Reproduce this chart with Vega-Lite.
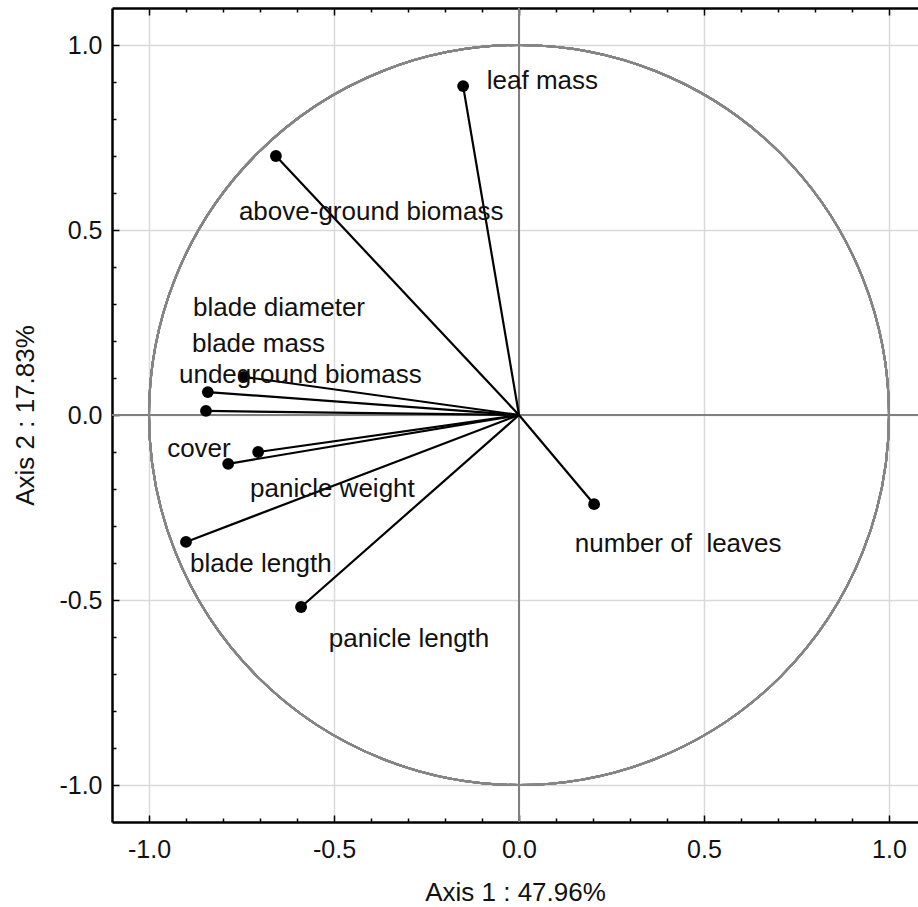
{
  "$schema": "https://vega.github.io/schema/vega-lite/v6.json",
  "autosize": "none",
  "padding": {"left": 112, "top": 8, "right": 0, "bottom": 85},
  "width": 806,
  "height": 814,
  "background": "white",
  "config": {"view": {"stroke": null}},
  "data": {"values": [
    {"name": "leaf mass", "x": -0.151, "y": 0.889, "lx": -0.087, "ly": 0.881},
    {"name": "above-ground biomass", "x": -0.657, "y": 0.700, "lx": -0.757, "ly": 0.527},
    {"name": "blade diameter", "x": -0.846, "y": 0.011, "lx": -0.881, "ly": 0.268},
    {"name": "blade mass", "x": -0.841, "y": 0.062, "lx": -0.884, "ly": 0.171},
    {"name": "undeground biomass", "x": -0.743, "y": 0.103, "lx": -0.919, "ly": 0.086},
    {"name": "cover", "x": -0.786, "y": -0.132, "lx": -0.951, "ly": -0.114},
    {"name": "panicle weight", "x": -0.705, "y": -0.100, "lx": -0.727, "ly": -0.222},
    {"name": "blade length", "x": -0.900, "y": -0.343, "lx": -0.889, "ly": -0.424},
    {"name": "panicle length", "x": -0.589, "y": -0.519, "lx": -0.514, "ly": -0.627},
    {"name": "number of\u00a0 leaves", "x": 0.203, "y": -0.241, "lx": 0.151, "ly": -0.370}
  ]},
  "resolve": {"axis": {"x": "independent", "y": "independent"}},
  "layer": [
    {
      "mark": {"type": "rule", "color": "#808080", "strokeWidth": 1.5},
      "encoding": {
        "x": {"datum": 0, "type": "quantitative", "scale": {"domain": [-1.1, 1.0784], "nice": false, "zero": false},
          "axis": {
            "orient": "bottom",
            "values": [-1.0, -0.9, -0.8, -0.7, -0.6, -0.5, -0.4, -0.3, -0.2, -0.1, 0, 0.1, 0.2, 0.3, 0.4, 0.5, 0.6, 0.7, 0.8, 0.9, 1.0],
            "labelExpr": "abs(datum.value*2 - round(datum.value*2)) < 0.001 ? (datum.value < -0.001 ? '-' : '') + format(abs(datum.value), '.1f') : ''",
            "labelOverlap": false,
            "labelFlush": false,
            "labelFont": "Liberation Sans",
            "labelFontSize": 25,
            "labelColor": "#111111",
            "labelPadding": 22,
            "tickSize": {"condition": {"test": "abs(datum.value*2 - round(datum.value*2)) < 0.001", "value": -7}, "value": -4},
            "tickColor": "black",
            "tickWidth": 1.5,
            "domain": true,
            "domainColor": "black",
            "domainWidth": 2.5,
            "grid": true,
            "gridColor": "#d9d9d9",
            "gridWidth": 1.5,
            "gridOpacity": {"condition": {"test": "abs(datum.value*2 - round(datum.value*2)) < 0.001", "value": 1}, "value": 0},
            "title": "Axis 1 : 47.96%",
            "titleFont": "Liberation Sans",
            "titleFontSize": 26,
            "titleFontWeight": "normal",
            "titleColor": "#111111",
            "titlePadding": 14
          }
        }
      }
    },
    {
      "mark": {"type": "rule", "color": "#808080", "strokeWidth": 1.5},
      "encoding": {
        "y": {"datum": 0, "type": "quantitative", "scale": {"domain": [-1.1, 1.1], "nice": false, "zero": false},
          "axis": {
            "orient": "left",
            "values": [-1.0, -0.9, -0.8, -0.7, -0.6, -0.5, -0.4, -0.3, -0.2, -0.1, 0, 0.1, 0.2, 0.3, 0.4, 0.5, 0.6, 0.7, 0.8, 0.9, 1.0],
            "labelExpr": "abs(datum.value*2 - round(datum.value*2)) < 0.001 ? (datum.value < -0.001 ? '-' : '') + format(abs(datum.value), '.1f') : ''",
            "labelOverlap": false,
            "labelFlush": false,
            "labelFont": "Liberation Sans",
            "labelFontSize": 25,
            "labelColor": "#111111",
            "labelPadding": 17,
            "tickSize": {"condition": {"test": "abs(datum.value*2 - round(datum.value*2)) < 0.001", "value": -7}, "value": -4},
            "tickColor": "black",
            "tickWidth": 1.5,
            "domain": true,
            "domainColor": "black",
            "domainWidth": 2.5,
            "grid": true,
            "gridColor": "#d9d9d9",
            "gridWidth": 1.5,
            "gridOpacity": {"condition": {"test": "abs(datum.value*2 - round(datum.value*2)) < 0.001", "value": 1}, "value": 0},
            "title": "Axis 2 : 17.83%",
            "titleFont": "Liberation Sans",
            "titleFontSize": 26,
            "titleFontWeight": "normal",
            "titleColor": "#111111",
            "titlePadding": 20
          }
        }
      }
    },
    {
      "mark": {"type": "arc", "radius": 370, "theta": 0, "theta2": 6.2832, "filled": false, "stroke": "#858585", "strokeWidth": 2},
      "encoding": {
        "x": {"datum": 0, "type": "quantitative", "axis": null},
        "y": {"datum": 0, "type": "quantitative", "axis": null}
      }
    },
    {
      "mark": {"type": "rule", "color": "black", "strokeWidth": 2.2},
      "encoding": {
        "x": {"field": "x", "type": "quantitative", "axis": null},
        "y": {"field": "y", "type": "quantitative", "axis": null},
        "x2": {"datum": 0},
        "y2": {"datum": 0}
      }
    },
    {
      "mark": {"type": "point", "filled": true, "color": "black", "size": 140, "opacity": 1},
      "encoding": {
        "x": {"field": "x", "type": "quantitative", "axis": null},
        "y": {"field": "y", "type": "quantitative", "axis": null}
      }
    },
    {
      "mark": {"type": "text", "align": "left", "baseline": "alphabetic", "font": "Liberation Sans", "fontSize": 26, "color": "#111111"},
      "encoding": {
        "x": {"field": "lx", "type": "quantitative",
          "axis": {
            "orient": "top",
            "values": [-1.0, -0.9, -0.8, -0.7, -0.6, -0.5, -0.4, -0.3, -0.2, -0.1, 0, 0.1, 0.2, 0.3, 0.4, 0.5, 0.6, 0.7, 0.8, 0.9, 1.0],
            "labels": false,
            "grid": false,
            "tickSize": {"condition": {"test": "abs(datum.value*2 - round(datum.value*2)) < 0.001", "value": -7}, "value": -4},
            "tickColor": "black",
            "tickWidth": 1.5,
            "domain": true,
            "domainColor": "black",
            "domainWidth": 2.5,
            "title": null
          }
        },
        "y": {"field": "ly", "type": "quantitative", "axis": null},
        "text": {"field": "name"}
      }
    }
  ]
}
